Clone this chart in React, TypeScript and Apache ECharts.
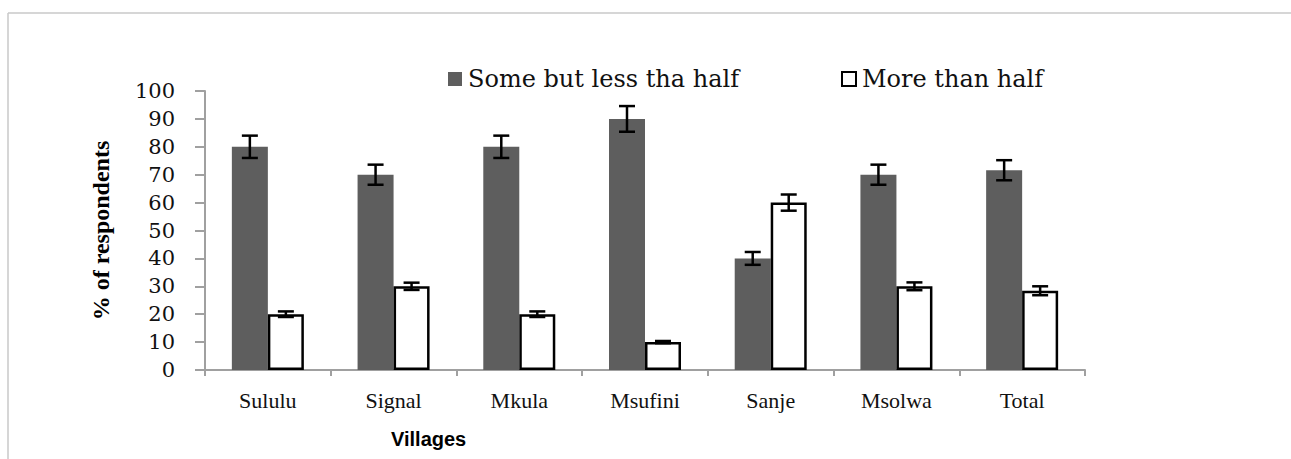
import React, { useEffect, useRef } from "react";
import * as echarts from "echarts";

const villages = ["Sululu", "Signal", "Mkula", "Msufini", "Sanje", "Msolwa", "Total"];
const someButLess = [80, 70, 80, 90, 40, 70, 71.6];
const moreThanHalf = [20, 30, 20, 10, 60, 30, 28.4];
const someErr = [4, 3.6, 4, 4.6, 2.3, 3.6, 3.6];
const moreErr = [1, 1.3, 1, 0.4, 2.9, 1.4, 1.6];
const seriesNames = ["Some but less tha half", "More than half"];
const yTicks = { min: 0, max: 100, interval: 10 };

const BAR_W = 36;

function errorSeries(values: number[], errs: number[], offset: number) {
  return {
    type: "custom",
    z: 10,
    silent: true,
    encode: { x: 0, y: [1, 2] },
    data: values.map((v, i) => [i, v - errs[i], v + errs[i]]),
    renderItem: (params: any, api: any) => {
      const idx = api.value(0);
      const lo = api.coord([idx, api.value(1)]);
      const hi = api.coord([idx, api.value(2)]);
      const x = lo[0] + offset;
      const cap = 8;
      const style = { stroke: "#000", lineWidth: 2.5 };
      return {
        type: "group",
        children: [
          { type: "line", shape: { x1: x, y1: lo[1], x2: x, y2: hi[1] }, style },
          { type: "line", shape: { x1: x - cap, y1: lo[1], x2: x + cap, y2: lo[1] }, style },
          { type: "line", shape: { x1: x - cap, y1: hi[1], x2: x + cap, y2: hi[1] }, style },
        ],
      };
    },
  };
}

export default function App() {
  const ref = useRef<HTMLDivElement>(null);
  useEffect(() => {
    if (!ref.current) return;
    const chart = echarts.init(ref.current, undefined, { renderer: "svg" });
    const legendText = { fontFamily: "DejaVu Serif", fontSize: 24, color: "#111", padding: [0, 0, 0, 1] };
    chart.setOption({
      animation: false,
      backgroundColor: "#ffffff",
      title: {
        text: "Villages",
        left: 386,
        top: 424,
        textStyle: { fontFamily: "Liberation Sans", fontWeight: "bold", fontSize: 20, color: "#000" },
      },
      legend: [
        {
          data: [seriesNames[0]],
          left: 443,
          top: 62,
          icon: "rect",
          itemWidth: 14,
          itemHeight: 14,
          textStyle: legendText,
        },
        {
          data: [seriesNames[1]],
          left: 836,
          top: 62,
          icon: "rect",
          itemWidth: 14,
          itemHeight: 14,
          textStyle: legendText,
        },
      ],
      graphic: [
        { type: "line", shape: { x1: 8, y1: 13, x2: 1291, y2: 13 }, style: { stroke: "#c8c8c8", lineWidth: 1.5 } },
        { type: "line", shape: { x1: 8, y1: 13, x2: 8, y2: 459 }, style: { stroke: "#c8c8c8", lineWidth: 1.5 } },
      ],
      grid: { left: 205, right: 206, top: 91, bottom: 89, containLabel: false },
      xAxis: {
        type: "category",
        data: villages,
        axisLine: { show: true, lineStyle: { color: "#a0a0a0", width: 2 } },
        axisTick: { show: true, length: 6, lineStyle: { color: "#a0a0a0", width: 2 } },
        axisLabel: { fontFamily: "Liberation Serif", fontSize: 22, color: "#111", margin: 19 },
      },
      yAxis: {
        type: "value",
        min: yTicks.min,
        max: yTicks.max,
        interval: yTicks.interval,
        name: "% of respondents",
        nameLocation: "middle",
        nameGap: 92,
        nameTextStyle: { fontFamily: "Liberation Serif", fontWeight: "bold", fontSize: 24, color: "#000" },
        axisLine: { show: true, lineStyle: { color: "#a0a0a0", width: 2 } },
        axisTick: { show: true, length: 10, lineStyle: { color: "#a0a0a0", width: 2 } },
        splitLine: { show: false },
        axisLabel: { fontFamily: "DejaVu Serif", fontSize: 21, color: "#111", margin: 30 },
      },
      series: [
        {
          name: seriesNames[0],
          type: "bar",
          data: someButLess,
          barWidth: BAR_W,
          barGap: "0%",
          itemStyle: { color: "#5e5e5e" },
        },
        {
          name: seriesNames[1],
          type: "bar",
          data: moreThanHalf,
          barWidth: BAR_W,
          barGap: "0%",
          itemStyle: { color: "#ffffff", borderColor: "#000", borderWidth: 2.5 },
        },
        errorSeries(someButLess, someErr, -BAR_W / 2),
        errorSeries(moreThanHalf, moreErr, BAR_W / 2),
      ],
    });
    return () => chart.dispose();
  }, []);
  return (
    <div
      ref={ref}
      style={{ position: "fixed", left: 0, top: 0, width: 1291, height: 459 }}
    />
  );
}
